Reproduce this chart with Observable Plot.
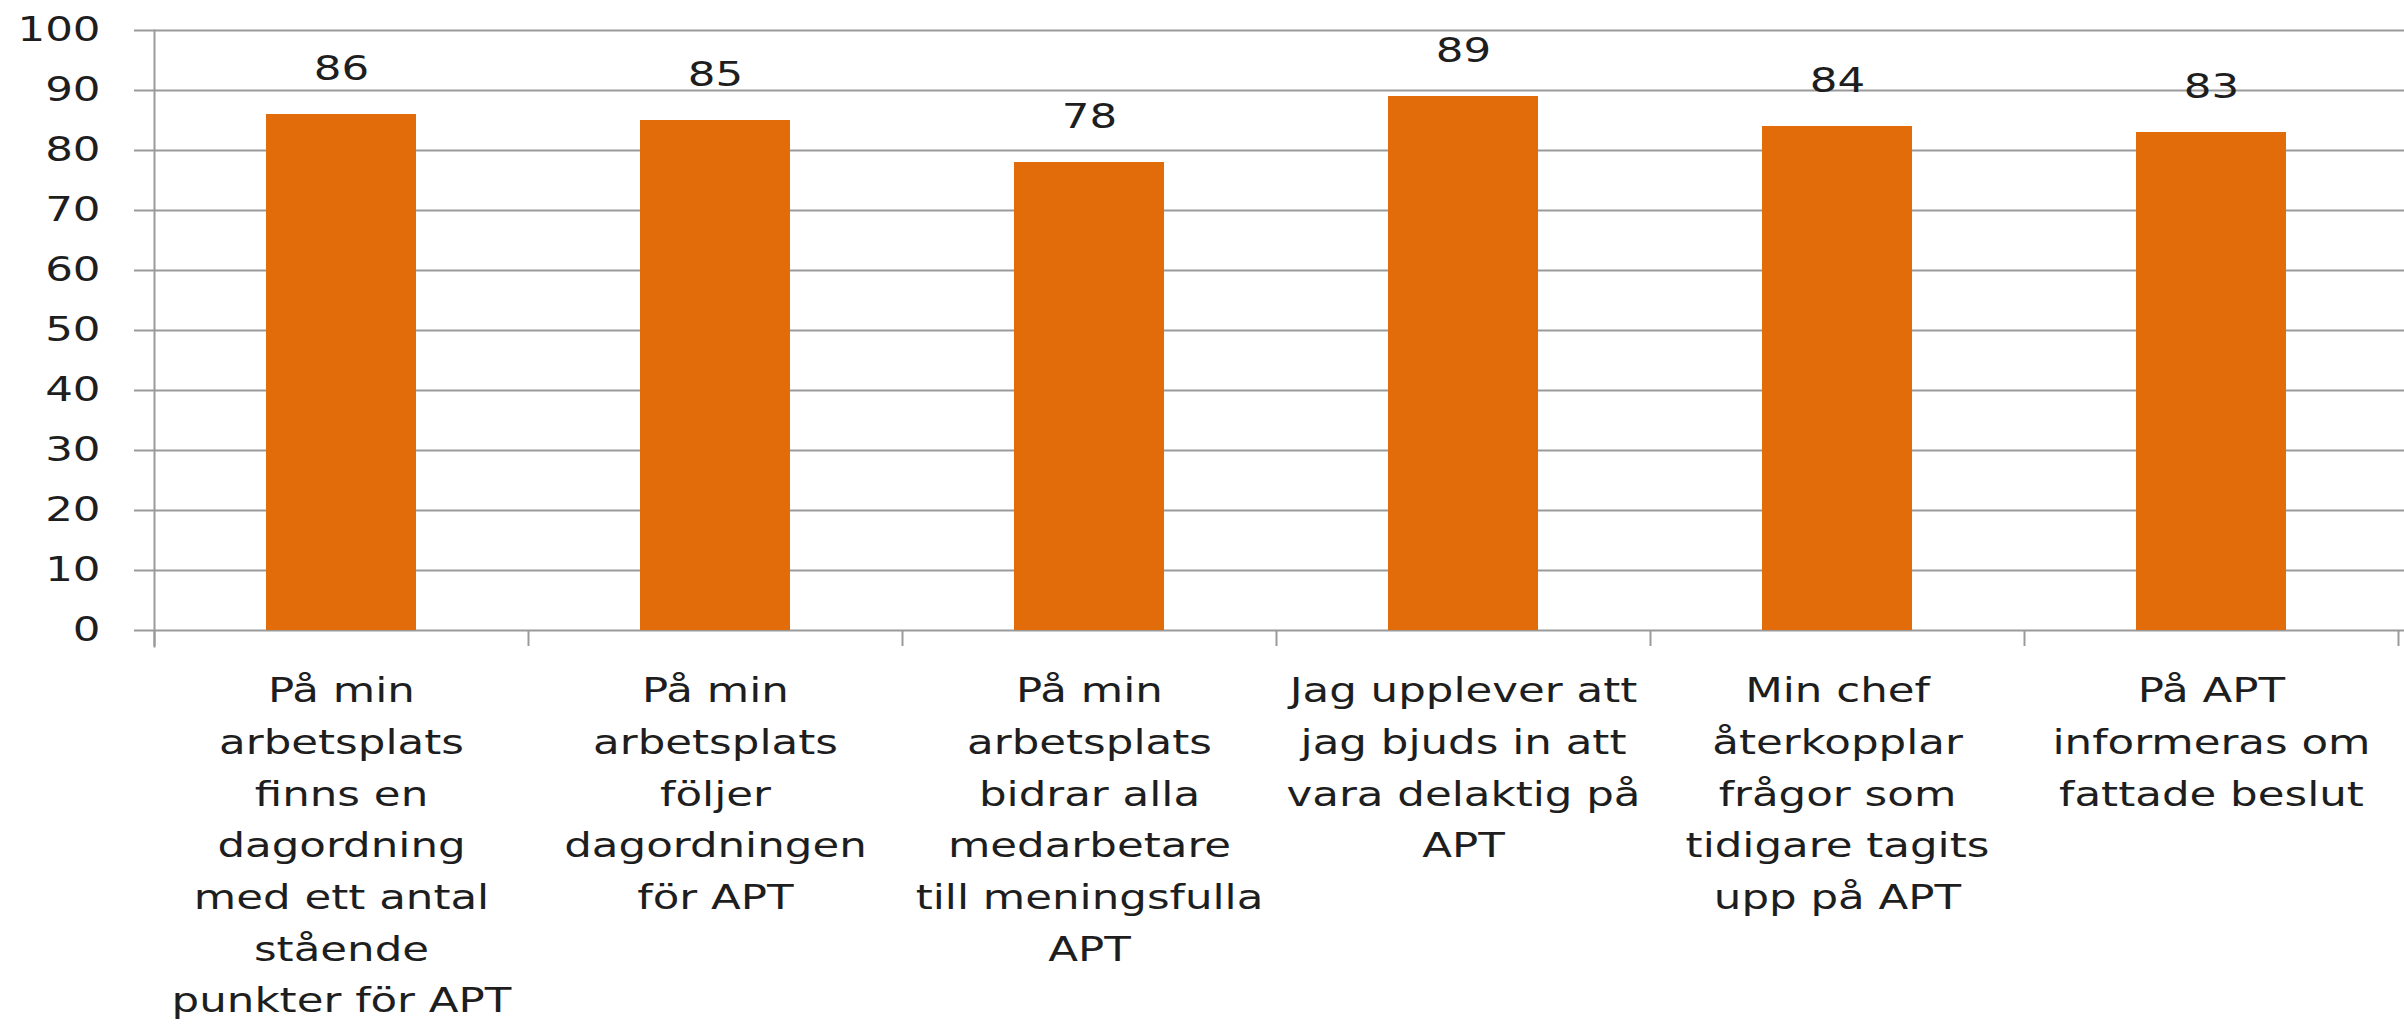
<!DOCTYPE html>
<html>
<head>
<meta charset="utf-8">
<script src="https://cdn.jsdelivr.net/npm/d3@7"></script>
<script src="https://cdn.jsdelivr.net/npm/@observablehq/plot@0.6"></script>
<style>
  html, body { margin: 0; padding: 0; background: #fff; }
  #chart svg { display: block; }
</style>
</head>
<body>
<div id="chart"></div>
<script>
// Categories (full statements)
const categories = [
  "På min arbetsplats finns en dagordning med ett antal stående punkter för APT",
  "På min arbetsplats följer dagordningen för APT",
  "På min arbetsplats bidrar alla medarbetare till meningsfulla APT",
  "Jag upplever att jag bjuds in att vara delaktig på APT",
  "Min chef återkopplar frågor som tidigare tagits upp på APT",
  "På APT informeras om fattade beslut"
];
// Tick labels as wrapped in the reference
const tickLabels = [
  "På min\narbetsplats\nfinns en\ndagordning\nmed ett antal\nstående\npunkter för APT",
  "På min\narbetsplats\nföljer\ndagordningen\nför APT",
  "På min\narbetsplats\nbidrar alla\nmedarbetare\ntill meningsfulla\nAPT",
  "Jag upplever att\njag bjuds in att\nvara delaktig på\nAPT",
  "Min chef\nåterkopplar\nfrågor som\ntidigare tagits\nupp på APT",
  "På APT\ninformeras om\nfattade beslut"
];
const values = [86, 85, 78, 89, 84, 83];
const yTicks = [0, 10, 20, 30, 40, 50, 60, 70, 80, 90, 100];

const data = categories.map((c, i) => ({category: c, value: values[i]}));

const W = 2404, H = 1025;
const mL = 154, mR = 6, mT = 30, mB = 395;
const halfStep = (W - mL - mR) / categories.length / 2;
const grey = "#9a9a9a";
const ink = "#1e1e1e";
const orange = "#E36C0A";

const svg = Plot.plot({
  width: W,
  height: H,
  marginLeft: mL,
  marginRight: mR,
  marginTop: mT,
  marginBottom: mB,
  style: {fontFamily: "DejaVu Sans", fontSize: "34px", color: ink, background: "#fff", overflow: "visible"},
  x: {domain: categories, paddingInner: 0.6, paddingOuter: 0.3, label: null},
  y: {domain: [0, 100], label: null},
  marks: [
    Plot.gridY(yTicks, {stroke: grey, strokeOpacity: 1, strokeWidth: 2, insetRight: -6}),
    Plot.barY(data, {x: "category", y: "value", fill: orange}),
    Plot.frame({anchor: "left", stroke: grey, strokeWidth: 2, insetBottom: -16}),
    Plot.ruleX(categories, {x: d => d, dx: -halfStep, stroke: grey, strokeWidth: 2, insetTop: H - mT - mB, insetBottom: -16}),
    Plot.ruleX(categories.slice(-1), {x: d => d, dx: halfStep, stroke: grey, strokeWidth: 2, insetTop: H - mT - mB, insetBottom: -16}),
    Plot.axisY(yTicks, {tickSize: 20, tickPadding: 34, stroke: grey, strokeWidth: 2, fill: ink, fontSize: 34, label: null}),
    Plot.axisX({tickSize: 0, tickPadding: 35, lineHeight: 1.52, fontSize: 34, fill: ink, label: null,
      tickFormat: d => tickLabels[categories.indexOf(d)]}),
    Plot.text(data, {x: "category", y: "value", text: d => String(d.value), dy: -45, fontSize: 34, fill: ink})
  ]
});

// widen glyphs horizontally around each label's anchor (reference text is stretched)
svg.querySelectorAll("text").forEach(t => {
  const tr = t.getAttribute("transform") || "";
  t.setAttribute("transform", tr + " scale(1.28,1)");
});

document.getElementById("chart").appendChild(svg);
</script>
</body>
</html>
